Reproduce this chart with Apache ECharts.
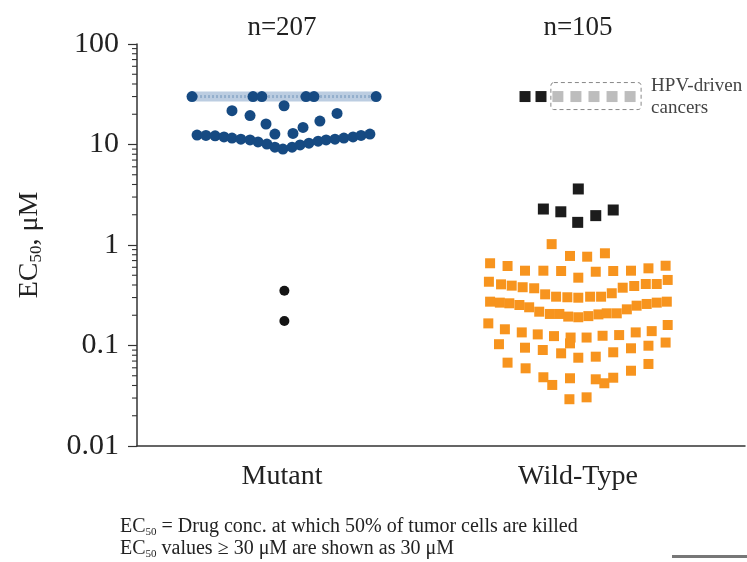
<!DOCTYPE html>
<html><head><meta charset="utf-8">
<script src="https://cdn.jsdelivr.net/npm/echarts@6/dist/echarts.min.js"></script>
<style>html,body{margin:0;padding:0;background:#fff}#c{width:747px;height:562px}</style>
</head><body><div id="c"></div>
<script>
// ---------- data ----------
const categories = ['Mutant', 'Wild-Type'];
const groupCounts = [207, 105];
const yTickValues = [0.01, 0.1, 1, 10, 100];
const yMinorTickValues = [0.02,0.03,0.04,0.05,0.06,0.07,0.08,0.09,
  0.2,0.3,0.4,0.5,0.6,0.7,0.8,0.9, 2,3,4,5,6,7,8,9, 20,30,40,50,60,70,80,90];
const capValue = 30;

// Mutant (blue circles); beeswarm offsets are relative to the group centre
const mutantCapOffsets = [-0.304, -0.098, -0.068, 0.081, 0.108, 0.318];
const mutantCapBand = [-0.304, 0.318];   // densely packed points at 30 µM
const mutantMidOffsets = [-0.169, -0.108, -0.054, 0.007, -0.024, 0.037, 0.071, 0.128, 0.186];
const mutantMidValues  = [21.7, 19.4, 16.0, 24.3, 12.7, 12.9, 14.8, 17.1, 20.4];
const mutantLowOffsets = [-0.287,-0.257,-0.226,-0.196,-0.169,-0.139,-0.108,-0.081,-0.051,-0.024,0.003,
  0.034,0.061,0.091,0.122,0.149,0.179,0.209,0.240,0.267,0.297];
const mutantLowValues  = [12.4,12.3,12.2,11.9,11.6,11.3,11.1,10.6,10.1,9.4,9.0,
  9.4,9.9,10.3,10.8,11.1,11.3,11.6,11.9,12.3,12.7];
const mutantBlackOffsets = [0.008, 0.008];
const mutantBlackValues  = [0.35, 0.175];

// Wild-Type (orange squares)
const wtOffsets = [
  -0.089,
  -0.027, 0.031, 0.091,
  -0.297,-0.238,-0.179,-0.117,-0.057,0.001,0.060,0.119,0.179,0.238,0.296,
  -0.301,-0.260,-0.224,-0.187,-0.148,-0.111,-0.074,-0.036,0.001,0.041,0.078,0.114,0.151,0.190,0.229,0.266,0.303,
  -0.297,-0.264,-0.232,-0.198,-0.165,-0.131,-0.095,-0.063,-0.033,0.001,0.035,0.069,0.097,0.131,0.165,0.198,0.232,0.266,0.300,
  -0.303,-0.247,-0.190,-0.136,-0.081,-0.025,-0.027,0.029,0.083,0.139,0.195,0.249,0.303,
  -0.267,-0.179,-0.119,-0.057,0.001,0.060,0.119,0.179,0.238,0.296,
  -0.238,-0.177,-0.117,-0.087,-0.027,0.060,0.089,0.119,0.179,0.238,
  -0.029, 0.029];
const wtValues = [
  1.02,
  0.778, 0.765, 0.827,
  0.658,0.618,0.555,0.555,0.551,0.473,0.542,0.551,0.555,0.586,0.622,
  0.431,0.406,0.394,0.380,0.371,0.323,0.306,0.302,0.299,0.306,0.306,0.331,0.376,0.391,0.409,0.409,0.449,
  0.273,0.267,0.263,0.253,0.240,0.217,0.206,0.206,0.194,0.191,0.196,0.204,0.209,0.209,0.229,0.249,0.259,0.267,0.273,
  0.166,0.145,0.135,0.129,0.124,0.120,0.105,0.120,0.125,0.127,0.135,0.139,0.160,
  0.103,0.0951,0.0902,0.0836,0.0756,0.0774,0.0856,0.0938,0.0995,0.107,
  0.0675,0.0593,0.0483,0.0405,0.0472,0.0461,0.0421,0.0478,0.0561,0.0655,
  0.0292, 0.0305];
const wtBlackOffsets = [0.001, -0.117, -0.058, -0.001, 0.060, 0.119, -0.179, -0.125];
const wtBlackValues  = [3.61, 2.28, 2.14, 1.68, 1.96, 2.23, 30, 30];
const hpvOffsets = [-0.068, -0.007, 0.054, 0.115, 0.176];
const hpvValues  = [30, 30, 30, 30, 30];
const footnotes = [
  ['EC', '50', ' = Drug conc. at which 50% of tumor cells are killed'],
  ['EC', '50', ' values \u2265 30 \u03bcM are shown as 30 \u03bcM']
];

// ---------- build ----------
const FONT = '"Liberation Serif", "Times New Roman", serif';
const xMin = -0.4899, xMax = 1.5642;
const pts = (g, offs, vals) => offs.map((o, i) => [g + o, vals[i]]);

const chart = echarts.init(document.getElementById('c'), null, {renderer: 'canvas'});
const option = {
  animation: false,
  backgroundColor: '#fff',
  grid: {left: 137, right: 2, top: 44, bottom: 116, containLabel: false},
  xAxis: [{
    type: 'value', min: xMin, max: xMax,
    axisLine: {show: true, onZero: false, lineStyle: {color: '#333', width: 1.5}},
    axisTick: {show: false}, splitLine: {show: false},
    axisLabel: {customValues: [0, 1], formatter: v => categories[Math.round(v)] || '',
      fontFamily: FONT, fontSize: 28, color: '#222', margin: 17}
  }, {
    type: 'value', min: xMin, max: xMax, position: 'top',
    axisLine: {show: false}, axisTick: {show: false}, splitLine: {show: false},
    axisLabel: {customValues: [0, 1], formatter: v => 'n=' + groupCounts[Math.round(v)],
      fontFamily: FONT, fontSize: 27, color: '#222', margin: 3}
  }],
  yAxis: {
    type: 'log', logBase: 10, min: yTickValues[0], max: yTickValues[yTickValues.length - 1],
    axisLine: {show: true, onZero: false, lineStyle: {color: '#333', width: 1.5}},
    axisTick: {show: true, length: 9, lineStyle: {color: '#333', width: 1.2}},
    splitLine: {show: false},
    axisLabel: {formatter: v => String(+(+v).toPrecision(3)), fontFamily: FONT, fontSize: 30, color: '#222', margin: 18},
    name: '{a|EC}{s|50}{a|, \u03bcM}', nameLocation: 'middle', nameGap: 92,
    nameTextStyle: {fontFamily: FONT, color: '#222',
      rich: {a: {fontFamily: FONT, fontSize: 28, color: '#222', lineHeight: 30},
             s: {fontFamily: FONT, fontSize: 17, color: '#222', lineHeight: 14, verticalAlign: 'bottom'}}}
  },
  series: [
    { // minor log ticks
      type: 'custom', clip: false, silent: true, z: 1,
      renderItem: (params, api) => {
        const p = api.coord([xMin, api.value(1)]);
        return {type: 'line', shape: {x1: p[0] - 5, y1: p[1], x2: p[0], y2: p[1]},
                style: {stroke: '#333', lineWidth: 1.1}};
      },
      data: yMinorTickValues.map(v => [xMin, v])
    },
    { // packed band of capped mutant values
      type: 'line', silent: true, symbol: 'none', z: 2,
      data: mutantCapBand.map(o => [0 + o, capValue]),
      lineStyle: {color: '#bccde1', width: 10}
    },
    {
      type: 'line', silent: true, symbol: 'none', z: 3,
      data: mutantCapBand.map(o => [0 + o, capValue]),
      lineStyle: {color: '#93afcc', width: 3, type: [2, 2]}
    },
    {
      type: 'scatter', symbol: 'circle', symbolSize: 11, z: 4,
      itemStyle: {color: '#164a82', opacity: 1},
      data: pts(0, mutantCapOffsets, mutantCapOffsets.map(() => capValue))
        .concat(pts(0, mutantMidOffsets, mutantMidValues))
        .concat(pts(0, mutantLowOffsets, mutantLowValues))
    },
    {
      type: 'scatter', symbol: 'circle', symbolSize: 10, z: 4,
      itemStyle: {color: '#141414', opacity: 1},
      data: pts(0, mutantBlackOffsets, mutantBlackValues)
    },
    {
      type: 'scatter', symbol: 'rect', symbolSize: 10, z: 4,
      itemStyle: {color: '#f7941e', opacity: 1},
      data: pts(1, wtOffsets, wtValues)
    },
    {
      type: 'scatter', symbol: 'rect', symbolSize: 11, z: 5,
      itemStyle: {color: '#1c1c1c', opacity: 1},
      data: pts(1, wtBlackOffsets, wtBlackValues)
    },
    {
      type: 'scatter', symbol: 'rect', symbolSize: 11, z: 5,
      itemStyle: {color: '#bdbdbd', opacity: 1},
      data: pts(1, hpvOffsets, hpvValues)
    }
  ]
};
chart.setOption(option);

// annotation box around the HPV-driven points, footnotes
const pL = chart.convertToPixel({gridIndex: 0}, [1 + hpvOffsets[0], capValue]);
const pR = chart.convertToPixel({gridIndex: 0}, [1 + hpvOffsets[hpvOffsets.length - 1], capValue]);
const graphics = [
  {type: 'rect', shape: {x: pL[0] - 7, y: pL[1] - 14, width: pR[0] - pL[0] + 18, height: 27, r: 3},
   style: {fill: 'none', stroke: '#888', lineWidth: 1, lineDash: [4, 3]}, z: 10},
  {type: 'text', x: pR[0] + 21, y: pL[1],
   style: {text: 'HPV-driven\ncancers', fontFamily: FONT, fontSize: 19, fill: '#444', lineHeight: 22,
           verticalAlign: 'middle'}, z: 10},
  {type: 'rect', shape: {x: 672, y: 555, width: 75, height: 3}, style: {fill: '#777'}, z: 10}
];
footnotes.forEach((f, i) => {
  graphics.push({type: 'text', x: 120, y: 527 + i * 22,
    style: {text: '{a|' + f[0] + '}{s|' + f[1] + '}{a|' + f[2] + '}', verticalAlign: 'middle',
      rich: {a: {fontFamily: FONT, fontSize: 20, fill: '#222', lineHeight: 22},
             s: {fontFamily: FONT, fontSize: 11, fill: '#222', lineHeight: 12, verticalAlign: 'bottom'}}}, z: 10});
});
chart.setOption({graphic: graphics});
</script>
</body></html>
